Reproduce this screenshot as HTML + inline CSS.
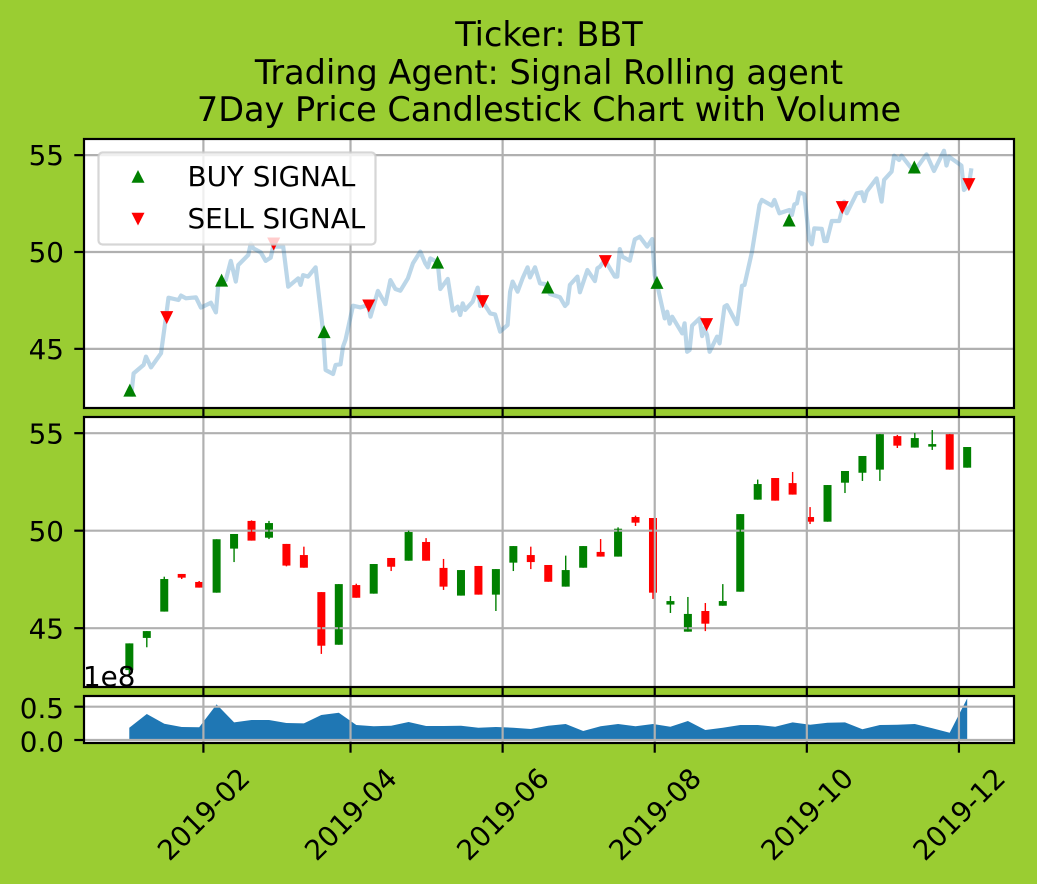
<!DOCTYPE html>
<html lang="en">
<head>
<meta charset="utf-8">
<title>Ticker: BBT</title>
<style>
html,body{margin:0;padding:0;background:#9acd32;}
svg{display:block;}
text{font-family:"DejaVu Sans","Liberation Sans",sans-serif;fill:#000;}
</style>
</head>
<body>
<svg id="chart" xmlns="http://www.w3.org/2000/svg" width="1037" height="884" viewBox="0 0 1037 884">
  <rect x="0" y="0" width="1037" height="884" fill="#9acd32"/>
  <g text-anchor="middle" font-size="33.5">
    <text x="549" y="46">Ticker: BBT</text>
    <text x="549" y="84">Trading Agent: Signal Rolling agent</text>
    <text x="549" y="121">7Day Price Candlestick Chart with Volume</text>
  </g>
  <defs>
    <clipPath id="clip-top"><rect x="84" y="139" width="930" height="269"/></clipPath>
    <clipPath id="clip-mid"><rect x="84" y="417" width="930" height="270"/></clipPath>
    <clipPath id="clip-bot"><rect x="84" y="696" width="930" height="47"/></clipPath>
  </defs>
  <g id="panel-top"></g>
  <g id="panel-mid"></g>
  <g id="panel-bot"></g>
  <g id="x-labels"></g>
  <g>
    <rect x="98.5" y="152.5" width="277" height="92" rx="4" ry="4" fill="#fff" fill-opacity="0.8" stroke="#ccc" stroke-opacity="0.8" stroke-width="2.2"/>
    <polygon points="138,170 131.5,182.8 144.5,182.8" fill="#008000"/>
    <text x="187.5" y="186" font-size="27.8">BUY SIGNAL</text>
    <polygon points="138,225.5 131.5,212.7 144.5,212.7" fill="#ff0000"/>
    <text x="187.5" y="228" font-size="27.8">SELL SIGNAL</text>
  </g>
  <text x="83" y="686" font-size="27.8">1e8</text>
</svg>
<script>
// ---- x axis ----
const monthDays = [32, 91, 152, 213, 274, 335];
const monthLabels = ['2019-02', '2019-04', '2019-06', '2019-08', '2019-10', '2019-12'];

// ---- price line (day of 2019, closing price) ----
const lineDays = [3,4,8,9,11,15,17,18,22,23,25,29,31,35,37,38,40,41,43,45,46,50,51,52,55,57,59,60,64,66,70,71,72,74,77,80,81,84,85,87,88,89,92,95,98,99,102,105,107,109,111,
  114,116,119,121,122,123,125,126,127,130,132,134,135,136,137,140,142,143,144,147,149,151,154,155,156,158,160,162,163,165,167,169,171,175,177,178,179,182,183,186,189,190,191,193,197,198,199,200,203,205,207,210,212,213,214,217,218,219,220,224,225,226,227,228,231,232,233,234,235,
  238,239,241,242,246,248,249,252,255,256,260,261,263,267,268,269,270,271,273,275,276,277,280,281,282,284,287,289,290,294,296,297,298,302,304,305,308,309,311,312,317,322,325,329,330,331,336,337,339,340];
const linePrices = [42.53,43.73,44.17,44.60,44.04,44.77,46.66,47.64,47.52,47.75,47.61,47.66,47.13,47.38,46.88,48.38,48.52,48.55,49.54,48.47,49.33,49.85,50.45,50.19,49.98,49.54,49.71,50.28,50.28,48.21,48.64,48.30,48.81,48.73,49.21,45.89,43.91,43.70,44.17,44.20,45.11,45.46,47.23,47.14,47.26,46.66,47.99,47.31,48.55,48.09,48.00,
  48.64,49.41,50.02,49.41,49.21,49.67,49.54,49.41,48.09,48.61,46.97,47.18,46.75,47.35,47.01,47.44,48.16,47.21,47.44,46.83,46.78,45.89,46.23,47.95,48.47,47.95,48.64,49.21,48.69,49.21,48.38,48.35,47.83,47.66,47.21,47.35,48.30,48.73,47.92,49.07,48.50,49.16,49.24,49.59,48.73,48.73,50.15,49.76,49.55,50.65,50.79,50.28,50.67,48.81,48.30,46.57,46.92,46.30,46.66,45.80,46.32,44.85,44.94,46.20,46.57,45.66,46.06,45.71,44.85,
  45.63,45.28,47.18,47.26,46.28,48.26,48.30,50.02,52.43,52.69,52.39,52.69,52.00,52.17,51.91,52.46,52.51,53.08,52.98,50.62,50.40,51.22,51.19,50.57,50.57,51.60,51.60,52.60,52.00,53.03,53.08,52.63,53.12,53.80,52.60,53.72,54.15,54.97,54.75,54.97,54.15,55.04,54.18,55.23,54.46,54.92,54.46,53.20,53.46,54.32];

// ---- signals ----
const buyDays = [2.5, 39.3, 80.4, 125.9, 170.1, 213.9, 266.9, 317.1];
const buyPrices = [42.87, 48.55, 45.89, 49.48, 48.19, 48.43, 51.65, 54.39];
const sellDays = [17.3, 60.2, 98.3, 144, 193.2, 233.8, 288.2, 339];
const sellPrices = [46.61, 50.41, 47.21, 47.44, 49.50, 46.25, 52.29, 53.48];

// ---- weekly candles ----
const weekDays = [2.3,9.3,16.3,23.3,30.3,37.3,44.3,51.3,58.3,65.3,72.3,79.3,86.3,93.3,100.3,107.3,114.3,121.3,128.3,135.3,142.3,149.3,156.3,163.3,170.3,177.3,184.3,191.3,198.3,205.3,212.3,219.3,226.3,233.3,240.3,247.3,254.3,261.3,268.3,275.3,282.3,289.3,296.3,303.3,310.3,317.3,324.3,331.3,338.3];
const opens = [42.85,44.50,45.85,47.78,47.37,46.82,49.08,50.50,49.64,49.32,48.75,46.85,44.15,47.21,46.77,48.60,48.46,49.42,48.09,46.67,48.19,46.72,48.36,48.75,48.24,47.13,48.10,48.91,48.67,50.70,50.65,46.21,44.82,45.88,46.15,46.87,51.59,52.70,52.44,50.70,50.46,52.46,52.97,53.13,54.85,54.26,54.31,54.96,53.23];
const highs = [44.22,44.85,47.64,47.78,47.42,49.56,49.83,50.53,50.50,49.32,49.18,46.85,47.26,47.28,48.29,48.60,50.00,49.62,48.55,47.98,48.19,48.03,49.21,49.18,48.24,48.72,49.21,49.57,50.17,50.77,50.65,46.65,46.60,46.29,47.26,50.85,52.62,52.70,53.01,51.21,52.34,53.06,53.83,54.96,54.91,55.01,55.16,54.96,54.29];
const lows = [42.51,44.02,45.85,47.52,47.08,46.82,48.39,49.49,49.57,48.17,48.10,43.68,44.15,46.56,46.77,47.93,48.46,48.46,46.96,46.67,46.72,45.88,47.93,48.03,47.38,47.13,48.10,48.67,48.67,50.24,46.50,45.78,44.82,44.85,46.15,46.87,51.59,51.54,51.85,50.34,50.46,51.93,52.55,52.55,54.24,54.26,54.14,53.13,53.23];
const closes = [44.22,44.85,47.52,47.59,47.08,49.56,49.83,49.49,50.39,48.21,48.10,44.10,47.26,46.56,48.29,48.15,49.93,48.46,47.13,47.98,46.72,48.03,49.21,48.39,47.38,47.98,49.21,48.67,50.10,50.41,46.82,46.39,45.73,45.23,46.39,50.85,52.39,51.54,51.85,50.46,52.34,53.06,53.83,54.96,54.36,54.75,54.44,53.13,54.29];

// ---- volume (x 1e8) ----
const volumes = [0.185,0.39,0.245,0.195,0.19,0.535,0.265,0.30,0.30,0.255,0.25,0.375,0.41,0.225,0.205,0.215,0.27,0.21,0.21,0.215,0.185,0.195,0.185,0.165,0.215,0.24,0.135,0.205,0.24,0.205,0.24,0.20,0.285,0.15,0.185,0.225,0.225,0.20,0.265,0.23,0.26,0.265,0.16,0.225,0.23,0.24,0.175,0.11,0.625];

// ---- tick values ----
const priceTicks = [45, 50, 55];
const volumeTicks = [0, 0.5];
const volumeTickLabels = ['0.0', '0.5'];

const NS = 'http://www.w3.org/2000/svg';
const X0 = 84, X1 = 1014;
function xScale(day) { return 203.4 + (day - 32) * 2.4935; }
function yTop(v) { return 252 - (v - 50) * 19.37; }
function yMid(v) { return 530.67 - (v - 50) * 19.5; }
function yBot(v) { return 740 - v * 66.6; }

function make(parent, tag, attrs) {
  const el = document.createElementNS(NS, tag);
  for (const k in attrs) el.setAttribute(k, attrs[k]);
  parent.appendChild(el);
  return el;
}

function drawGrid(parent, yFn, ticks, topY, bottomY) {
  ticks.forEach(function (t) {
    const el = make(parent, 'line', { x1: X0, x2: X1, y1: yFn(t), y2: yFn(t), stroke: '#b0b0b0', 'stroke-width': 2.2 });
    
    
  });
  monthDays.forEach(function (d) {
    const el = make(parent, 'line', { x1: xScale(d), x2: xScale(d), y1: topY, y2: bottomY, stroke: '#b0b0b0', 'stroke-width': 2.2 });
    
    
  });
}

function drawFrame(parent, topY, bottomY, yFn, ticks, labels, labelDy) {
  const frame = make(parent, 'rect', { x: X0, y: topY, width: X1 - X0, height: bottomY - topY, fill: 'none', stroke: '#000', 'stroke-width': 2.2 });
  
  
  monthDays.forEach(function (d) {
    const tick = make(parent, 'line', { x1: xScale(d), x2: xScale(d), y1: bottomY, y2: bottomY + 9.7, stroke: '#000', 'stroke-width': 2.2 });
    
    
  });
  ticks.forEach(function (t, i) {
    const y = yFn(t);
    const tick = make(parent, 'line', { x1: X0 - 9.7, x2: X0, y1: y, y2: y, stroke: '#000', 'stroke-width': 2.2 });
    
    
    const label = make(parent, 'text', { x: 64, y: y + labelDy, 'text-anchor': 'end', 'font-size': 27.8 });
    
    
    label.textContent = labels[i];
  });
}

function marker(parent, day, price, up, color) {
  const x = xScale(day), y = yTop(price), s = 6.5;
  const pts = up
    ? [x, y - s, x - s, y + s, x + s, y + s]
    : [x, y + s, x - s, y - s, x + s, y - s];
  return make(parent, 'polygon', { points: pts.join(' '), fill: color });
}

// ---- price panel ----
const topPanel = document.getElementById('panel-top');
const topBg = make(topPanel, 'rect', { x: X0, y: 139, width: X1 - X0, height: 269, fill: '#fff' });


const topClip = make(topPanel, 'g', { 'clip-path': 'url(#clip-top)' });
drawGrid(topClip, yTop, priceTicks, 139, 408);
const pricePts = lineDays.map(function (d, i) { return xScale(d).toFixed(1) + ',' + yTop(linePrices[i]).toFixed(1); }).join(' ');
const priceLine = make(topClip, 'polyline', { points: pricePts, fill: 'none', stroke: '#1f77b4', 'stroke-opacity': 0.3, 'stroke-width': 4.2, 'stroke-linejoin': 'round' });


buyDays.forEach(function (d, i) {
  const m = marker(topClip, d, buyPrices[i], true, '#008000');
  
  
});
sellDays.forEach(function (d, i) {
  const m = marker(topClip, d, sellPrices[i], false, '#ff0000');
  
  
});
drawFrame(topPanel, 139, 408, yTop, priceTicks, priceTicks.map(String), 10);

// ---- candlestick panel ----
const midPanel = document.getElementById('panel-mid');
const midBg = make(midPanel, 'rect', { x: X0, y: 417, width: X1 - X0, height: 270, fill: '#fff' });


const midClip = make(midPanel, 'g', { 'clip-path': 'url(#clip-mid)' });
weekDays.forEach(function (d, i) {
  const color = closes[i] >= opens[i] ? '#008000' : '#ff0000';
  const yA = yMid(Math.max(opens[i], closes[i]));
  const yB = yMid(Math.min(opens[i], closes[i]));
  const body = make(midClip, 'rect', { x: xScale(d) - 4, y: yA, width: 8, height: yB - yA, fill: color });
  
  
});
drawGrid(midClip, yMid, priceTicks, 417, 687);
weekDays.forEach(function (d, i) {
  const color = closes[i] >= opens[i] ? '#008000' : '#ff0000';
  const wick = make(midClip, 'line', { x1: xScale(d), x2: xScale(d), y1: yMid(highs[i]), y2: yMid(lows[i]), stroke: color, 'stroke-width': 1.4 });
  
  
});
drawFrame(midPanel, 417, 687, yMid, priceTicks, priceTicks.map(String), 10.5);

// ---- volume panel ----
const botPanel = document.getElementById('panel-bot');
const botBg = make(botPanel, 'rect', { x: X0, y: 696, width: X1 - X0, height: 47, fill: '#fff' });


const botClip = make(botPanel, 'g', { 'clip-path': 'url(#clip-bot)' });
const volPts = weekDays.map(function (d, i) { return xScale(d).toFixed(1) + ',' + yBot(volumes[i]).toFixed(1); });
volPts.unshift(xScale(weekDays[0]).toFixed(1) + ',' + yBot(0));
volPts.push(xScale(weekDays[weekDays.length - 1]).toFixed(1) + ',' + yBot(0));
const volArea = make(botClip, 'polygon', { points: volPts.join(' '), fill: '#1f77b4' });


drawGrid(botClip, yBot, volumeTicks, 696, 743);
drawFrame(botPanel, 696, 743, yBot, volumeTicks, volumeTickLabels, 11.5);

// ---- rotated x labels ----
const xLabels = document.getElementById('x-labels');
monthDays.forEach(function (d, i) {
  const x = xScale(d);
  const label = make(xLabels, 'text', { x: x, y: 824, 'text-anchor': 'middle', 'font-size': 27.8, transform: 'rotate(-45 ' + x + ' 814)' });
  
  
  label.textContent = monthLabels[i];
});
</script>
</body>
</html>
